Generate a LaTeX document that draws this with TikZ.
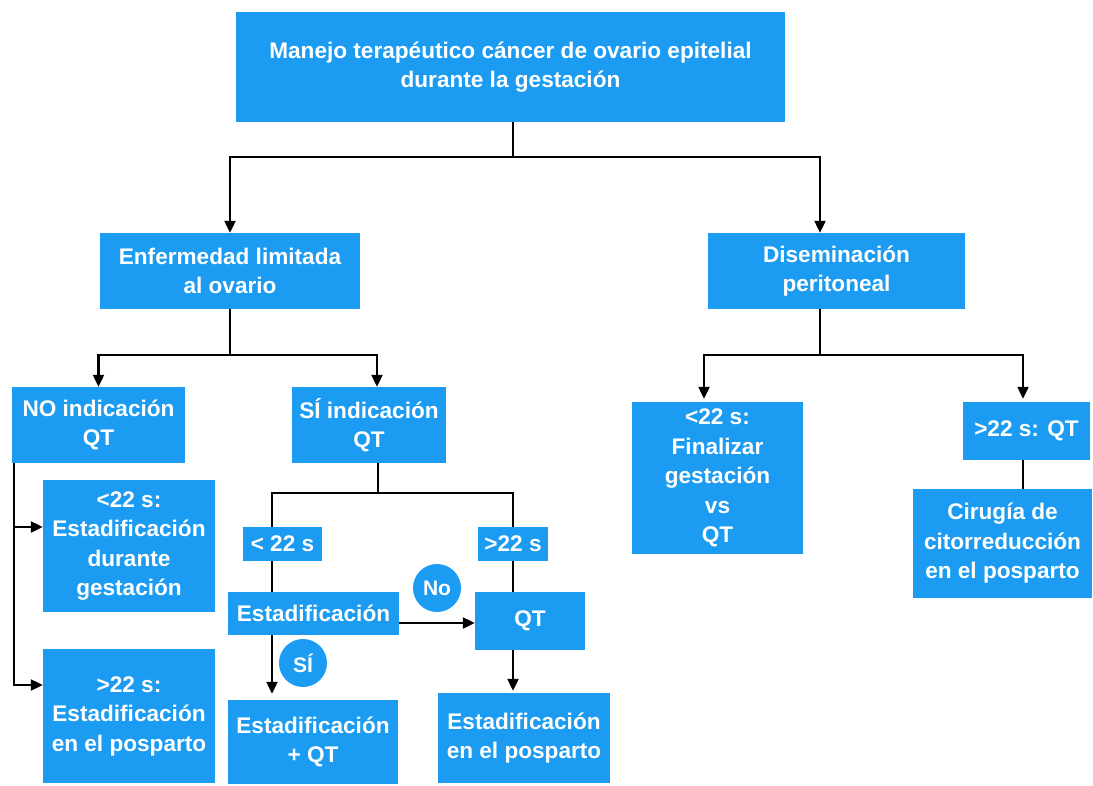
\documentclass[tikz,border=0pt]{standalone}
\usepackage{fontspec}
\setmainfont{Liberation Sans}
\usetikzlibrary{arrows.meta,calc}
\definecolor{boxblue}{RGB}{27,156,242}
\begin{document}
\begin{tikzpicture}[x=1pt,y=-1pt,
  box/.style={fill=boxblue, text=white, font=\bfseries\fontsize{22.6}{29.5}\selectfont, align=center, inner sep=0pt, draw=none},
  conn/.style={line width=2.2pt, black},
  arr/.style={conn, -{Triangle[length=12pt,width=11pt]}},
  bubble/.style={circle, fill=boxblue, text=white, font=\bfseries\fontsize{21}{25}\selectfont, minimum size=48pt, inner sep=0pt}]
\useasboundingbox (0,0) rectangle (1093,785);
% boxes
\node[box, minimum width=549pt, minimum height=110pt] (top) at (510.5,67) {Manejo terapéutico cáncer de ovario epitelial\\durante la gestación};
\node[box, minimum width=260pt, minimum height=76pt] (enf) at (230,271) {Enfermedad limitada\\al ovario};
\node[box, minimum width=257pt, minimum height=76pt] (dis) at (836.5,271) {Diseminación\\peritoneal};
\node[box, minimum width=173pt, minimum height=76pt] (no) at (98.5,425) {NO indicación\\QT};
\node[box, minimum width=154pt, minimum height=76pt] (si) at (369,425) {SÍ indicación\\QT};
\node[box, minimum width=172pt, minimum height=132pt] (lta) at (129,546) {<22 s:\\Estadificación\\durante\\gestación};
\node[box, minimum width=172pt, minimum height=134pt] (gta) at (129,716) {>22 s:\\Estadificación\\en el posparto};
\node[box, minimum width=79pt, minimum height=34pt] (ltb) at (282.5,544) {< 22 s};
\node[box, minimum width=70pt, minimum height=34pt] (gtb) at (513,544) {>22 s};
\node[box, minimum width=171pt, minimum height=43pt] (est) at (313.5,613.5) {Estadificación};
\node[box, minimum width=110pt, minimum height=58pt] (qt) at (530,621) {QT};
\node[box, minimum width=170pt, minimum height=84pt] (estqt) at (313,742) {Estadificación\\+ QT};
\node[box, minimum width=172pt, minimum height=90pt] (estpos) at (524,738) {Estadificación\\en el posparto};
\node[box, minimum width=171pt, minimum height=152pt] (fin) at (717.5,478) {<22 s:\\Finalizar\\gestación\\vs\\QT};
\node[box, minimum width=127pt, minimum height=58pt] (qtb) at (1026.5,431) {>22 s: QT};
\node[box, minimum width=179pt, minimum height=109pt] (cir) at (1002.5,543.5) {Cirugía de\\citorreducción\\en el posparto};
\node[bubble] (nobub) at (437,588) {No};
\node[bubble] (sibub) at (303,663) {SÍ};
% connectors: top level
\coordinate (j1) at ([xshift=2.5pt]top.south);
\draw[conn] (j1) -- ++(0,35) coordinate (j1b);
\draw[arr] (j1b) -| (enf.north);
\draw[arr] (j1b) -| ([xshift=-16.5pt]dis.north);
% enfermedad limitada
\draw[conn] (enf.south) -- ++(0,46) coordinate (j2);
\draw[arr] (j2) -| (no.north);
\draw[arr] (j2) -| ([xshift=8pt]si.north);
% NO indicacion
\coordinate (n1) at ([xshift=2pt]no.south west);
\draw[arr] (n1) |- ([yshift=19pt]lta.west);
\draw[arr] (n1) |- ([yshift=31pt]gta.west);
% SI indicacion
\draw[conn] ([xshift=9pt]si.south) -- ++(0,30) coordinate (j3);
\coordinate (l1) at ([xshift=-10.5pt]ltb.north);
\coordinate (l2) at ([xshift=-10.5pt]ltb.south);
\draw[conn] (j3) -| (l1);
\draw[conn] (j3) -| (gtb.north);
\draw[conn] (l2) -- (l2 |- est.north);
\draw[conn] (gtb.south) -- (gtb.south |- qt.north);
\coordinate (e1) at ([yshift=-9.5pt]est.east);
\draw[arr] (e1) -- (e1 -| qt.west);
\draw[arr, shorten >=6pt] (l2 |- est.south) -- (l2 |- estqt.north);
\draw[arr, shorten >=2pt] (gtb.south |- qt.south) -- (gtb.south |- estpos.north);
% diseminacion
\draw[conn] ([xshift=-16.5pt]dis.south) -- ++(0,46) coordinate (j4);
\draw[arr, shorten >=3pt] (j4) -| ([xshift=-13.5pt]fin.north);
\draw[arr, shorten >=3pt] (j4) -| ([xshift=-3.5pt]qtb.north);
\coordinate (q1) at ([xshift=-3.5pt]qtb.south);
\draw[conn] (q1) -- (q1 |- cir.north);
\end{tikzpicture}
\end{document}
